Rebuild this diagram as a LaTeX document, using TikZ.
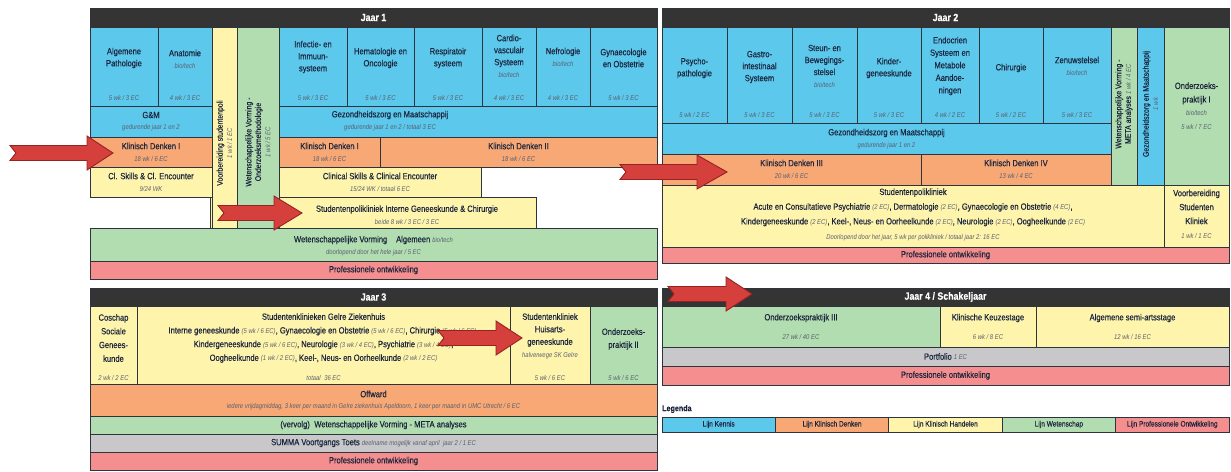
\documentclass[tikz,border=0pt]{standalone}
\usepackage{fontspec}
\setmainfont{Liberation Sans}[FakeStretch=0.84, FakeBold=0.3]
\newfontfamily\subfont{Liberation Sans}[FakeStretch=0.84]
\definecolor{kennis}{RGB}{92,200,236}
\definecolor{denken}{RGB}{247,168,117}
\definecolor{handelen}{RGB}{255,244,172}
\definecolor{wetensch}{RGB}{178,221,176}
\definecolor{profc}{RGB}{245,142,142}
\definecolor{grijs}{RGB}{200,200,202}
\definecolor{kop}{RGB}{52,52,52}
\definecolor{lijn}{RGB}{45,52,60}
\definecolor{tekst}{RGB}{28,38,62}
\definecolor{subtekst}{RGB}{90,96,112}
\definecolor{pijl}{RGB}{214,64,60}
\definecolor{pijlrand}{RGB}{150,35,35}
\newcommand{\subt}[1]{{\subfont\fontsize{7}{8}\selectfont\itshape\color{subtekst}#1}}
\newcommand{\cellbox}[6]{\node[cellstyle, fill=#6, minimum width={(#4)-(#2)}, minimum height={(#5)-(#3)}] (#1) at ({((#2)+(#4))/2},{((#3)+(#5))/2}) {};}
\newcommand{\pijlvorm}[5]{%
  \coordinate (#1) at (#3,#4);
  \draw[pijlstyle] ({#2},{#4-7.5}) -- ({#3-#5},{#4-7.5}) -- ({#3-#5},{#4-17}) -- (#1)
    -- ({#3-#5},{#4+17}) -- ({#3-#5},{#4+7.5}) -- ({#2},{#4+7.5}) -- ({#2+6},{#4}) -- cycle;}
\tikzset{
  cellstyle/.style={draw=lijn, line width=0.7pt, inner sep=0pt, outer sep=0pt, rectangle},
  lbl/.style={text=tekst, font=\fontsize{9}{12}\selectfont, align=center, inner sep=0pt},
  lblw/.style={lbl, font=\fontsize{9}{13.7}\selectfont},
  lblv/.style={lbl, font=\fontsize{8.2}{9.5}\selectfont, rotate=90},
  wk/.style={text=subtekst, font=\subfont\fontsize{7}{8}\selectfont\itshape, inner sep=0pt},
  legt/.style={lbl, font=\fontsize{7.8}{9}\selectfont},
  koptekst/.style={text=white, font=\fontsize{10.5}{12}\selectfont\bfseries, inner sep=0pt},
  pijlstyle/.style={fill=pijl, draw=pijlrand, line width=0.9pt, line join=miter},
}
\begin{document}
\begin{tikzpicture}[x=1pt,y=-1pt]
\useasboundingbox[fill=white] (0,0) rectangle (1231,471);

% ================= JAAR 1 =================
\cellbox{jk1}{90}{8}{657}{27}{kop}
\node[koptekst] (jk1t) at (jk1) {Jaar 1};
\cellbox{ap}{90}{27}{158}{106}{kennis}
\cellbox{anat}{158}{27}{212}{106}{kennis}
\cellbox{infec}{279}{27}{347}{106}{kennis}
\cellbox{hema}{347}{27}{414}{106}{kennis}
\cellbox{resp}{414}{27}{482}{106}{kennis}
\cellbox{cardio}{482}{27}{536}{106}{kennis}
\cellbox{nefro}{536}{27}{590}{106}{kennis}
\cellbox{gyn}{590}{27}{657}{106}{kennis}
\cellbox{gm}{90}{106}{212}{137}{kennis}
\cellbox{gzm1}{279}{106}{657}{137}{kennis}
\cellbox{kd1a}{90}{137}{212}{167}{denken}
\cellbox{kd1b}{279}{137}{380}{167}{denken}
\cellbox{kd2}{380}{137}{657}{167}{denken}
\cellbox{csa}{90}{167}{212}{197}{handelen}
\cellbox{csb}{279}{167}{481}{197}{handelen}
\cellbox{spoli1}{210}{197}{536}{228}{handelen}
\cellbox{vbsp}{212}{27}{237}{228}{handelen}
\cellbox{wvom}{237}{27}{279}{228}{wetensch}
\cellbox{wva}{90}{228}{657}{261}{wetensch}
\cellbox{po1}{90}{261}{657}{279}{profc}

\node[lbl] (ap-t) at (124,58) {Algemene\\Pathologie};
\node[wk] (ap-w) at (124,98) {5 wk / 3 EC};
\node[lbl] (anat-t) at (185,59) {Anatomie\\\subt{bio/tech}};
\node[wk] (anat-w) at (185,98) {4 wk / 3 EC};
\node[lbl] (infec-t) at (313,57) {Infectie- en\\Immuun-\\systeem};
\node[wk] (infec-w) at (313,98) {5 wk / 3 EC};
\node[lbl] (hema-t) at (380.5,58) {Hematologie en\\Oncologie};
\node[wk] (hema-w) at (380.5,98) {5 wk / 3 EC};
\node[lbl] (resp-t) at (448,58) {Respiratoir\\systeem};
\node[wk] (resp-w) at (448,98) {5 wk / 3 EC};
\node[lbl] (cardio-t) at (509,56) {Cardio-\\vasculair\\Systeem\\\subt{bio/tech}};
\node[wk] (cardio-w) at (509,98) {4 wk / 3 EC};
\node[lbl] (nefro-t) at (563,57) {Nefrologie\\\subt{bio/tech}};
\node[wk] (nefro-w) at (563,98) {4 wk / 3 EC};
\node[lbl] (gyn-t) at (623.5,58) {Gynaecologie\\en Obstetrie};
\node[wk] (gyn-w) at (623.5,98) {5 wk / 3 EC};

\node[lbl] (gm-t) at (151,115) {G\&M};
\node[wk] (gm-w) at (151,128) {gedurende jaar 1 en 2};
\node[lbl] (gzm1-t) at (390,115) {Gezondheidszorg en Maatschappij};
\node[wk] (gzm1-w) at (390,128) {gedurende jaar 1 en 2 / totaal 3 EC};
\node[lbl] (kd1a-t) at (151,146) {Klinisch Denken I};
\node[wk] (kd1a-w) at (151,158.5) {18 wk / 6 EC};
\node[lbl] (kd1b-t) at (329.5,146) {Klinisch Denken I};
\node[wk] (kd1b-w) at (329.5,158.5) {18 wk / 6 EC};
\node[lbl] (kd2-t) at (518.5,146) {Klinisch Denken II};
\node[wk] (kd2-w) at (518.5,158.5) {18 wk / 6 EC};
\node[lbl] (csa-t) at (151,176) {Cl. Skills \& Cl. Encounter};
\node[wk] (csa-w) at (151,188.5) {9/24 WK};
\node[lbl] (csb-t) at (380,176) {Clinical Skills \& Clinical Encounter};
\node[wk] (csb-w) at (380,188.5) {15/24 WK / totaal 6 EC};
\node[lbl] (spoli1-t) at (407,209.5) {Studentenpolikliniek Interne Geneeskunde \& Chirurgie};
\node[wk] (spoli1-w) at (407,221.5) {beide 8 wk / 3 EC / 3 EC};
\node[lblv] (vbsp-t) at (224.5,143) {Voorbereiding studentenpoli\\\subt{1 wk / 1 EC}};
\node[lblv] (wvom-t) at (258,142) {Wetenschappelijke Vorming -\\Onderzoeksmethodologie\\\subt{1 wk / 5 EC}};
\node[lbl] (wva-t) at (373.5,240) {Wetenschappelijke Vorming\quad Algemeen \subt{bio/tech}};
\node[wk] (wva-w) at (373.5,253) {doorlopend door het hele jaar / 5 EC};
\node[lbl] (po1-t) at (po1) {Professionele ontwikkeling};

% ================= JAAR 2 =================
\cellbox{jk2}{662}{8}{1229}{27}{kop}
\node[koptekst] (jk2t) at (jk2) {Jaar 2};
\cellbox{psy}{662}{27}{727}{123}{kennis}
\cellbox{gas}{727}{27}{792}{123}{kennis}
\cellbox{steun}{792}{27}{857}{123}{kennis}
\cellbox{kind}{857}{27}{921}{123}{kennis}
\cellbox{endo}{921}{27}{979}{123}{kennis}
\cellbox{chir}{979}{27}{1043}{123}{kennis}
\cellbox{zenuw}{1043}{27}{1111}{123}{kennis}
\cellbox{wvmeta}{1111}{27}{1137}{185}{wetensch}
\cellbox{gzmv}{1137}{27}{1164}{185}{kennis}
\cellbox{ozp1}{1164}{27}{1229}{185}{wetensch}
\cellbox{gzm2}{662}{123}{1111}{154}{kennis}
\cellbox{kd3}{662}{154}{921}{185}{denken}
\cellbox{kd4}{921}{154}{1111}{185}{denken}
\cellbox{spoli2}{662}{185}{1164}{247}{handelen}
\cellbox{vsk}{1164}{185}{1229}{247}{handelen}
\cellbox{po2}{662}{247}{1229}{263}{profc}

\node[lbl] (psy-t) at (694.5,68) {Psycho-\\pathologie};
\node[wk] (psy-w) at (694.5,115) {5 wk / 2 EC};
\node[lbl] (gas-t) at (759.5,67) {Gastro-\\intestinaal\\Systeem};
\node[wk] (gas-w) at (759.5,115) {5 wk / 3 EC};
\node[lbl] (steun-t) at (824.5,66) {Steun- en\\Bewegings-\\stelsel\\\subt{bio/tech}};
\node[wk] (steun-w) at (824.5,115) {5 wk / 3 EC};
\node[lbl] (kind-t) at (889,68) {Kinder-\\geneeskunde};
\node[wk] (kind-w) at (889,115) {5 wk / 3 EC};
\node[lbl, font=\fontsize{9}{12.5}\selectfont] (endo-t) at (950,66) {Endocrien\\Systeem en\\Metabole\\Aandoe-\\ningen};
\node[wk] (endo-w) at (950,115) {4 wk / 2 EC};
\node[lbl] (chir-t) at (1011,68) {Chirurgie};
\node[wk] (chir-w) at (1011,115) {5 wk / 2 EC};
\node[lbl] (zenuw-t) at (1077,66) {Zenuwstelsel\\\subt{bio/tech}};
\node[wk] (zenuw-w) at (1077,115) {5 wk / 3 EC};
\node[lblv] (wvmeta-t) at (1124,104) {Wetenschappelijke Vorming -\\META analyses \subt{1 wk / 4 EC}};
\node[lblv] (gzmv-t) at (1150.5,104) {Gezondheidszorg en Maatschappij\\\subt{1 wk}};
\node[lbl, font=\fontsize{9}{13.5}\selectfont] (ozp1-t) at (1196.5,106) {Onderzoeks-\\praktijk I\\\subt{bio/tech}\\\subt{5 wk / 7 EC}};
\node[lbl] (gzm2-t) at (886.5,133) {Gezondheidszorg en Maatschappij};
\node[wk] (gzm2-w) at (886.5,145.5) {gedurende jaar 1 en 2};
\node[lbl] (kd3-t) at (791.5,163) {Klinisch Denken III};
\node[wk] (kd3-w) at (791.5,175.5) {20 wk / 6 EC};
\node[lbl] (kd4-t) at (1016,163) {Klinisch Denken IV};
\node[wk] (kd4-w) at (1016,175.5) {13 wk / 4 EC};
\node[lbl, font=\fontsize{9}{14.7}\selectfont] (spoli2-t) at (913,214.5) {Studentenpolikliniek\\
Acute en Consultatieve Psychiatrie \subt{(2 EC)}, Dermatologie \subt{(2 EC)}, Gynaecologie en Obstetrie \subt{(4 EC)},\\
Kindergeneeskunde \subt{(2 EC)}, Keel-, Neus- en Oorheelkunde \subt{(2 EC)}, Neurologie \subt{(2 EC)}, Oogheelkunde \subt{(2 EC)}\\
\subt{Doorlopend door het jaar, 5 wk per polikliniek / totaal jaar 2: 16 EC}};
\node[lbl, font=\fontsize{9}{14}\selectfont] (vsk-t) at (1196.5,214) {Voorbereiding\\Studenten\\Kliniek\\\subt{1 wk / 1 EC}};
\node[lbl] (po2-t) at (po2) {Professionele ontwikkeling};

% ================= JAAR 3 =================
\cellbox{jk3}{90}{288}{657}{306}{kop}
\node[koptekst] (jk3t) at (jk3) {Jaar 3};
\cellbox{cosch}{90}{306}{137}{384}{handelen}
\cellbox{skg}{137}{306}{510}{384}{handelen}
\cellbox{skh}{510}{306}{590}{384}{handelen}
\cellbox{ozp2}{590}{306}{657}{384}{wetensch}
\cellbox{offw}{90}{384}{657}{416}{denken}
\cellbox{verv}{90}{416}{657}{434}{wetensch}
\cellbox{summa}{90}{434}{657}{452}{grijs}
\cellbox{po3}{90}{452}{657}{470}{profc}

\node[lblw] (cosch-t) at (113.5,338) {Coschap\\Sociale\\Genees-\\kunde};
\node[wk] (cosch-w) at (113.5,378) {2 wk / 2 EC};
\node[lblw] (skg-t) at (323.5,338) {Studentenklinieken Gelre Ziekenhuis\\
Interne geneeskunde \subt{(5 wk / 6 EC)}, Gynaecologie en Obstetrie \subt{(5 wk / 6 EC)}, Chirurgie \subt{(5 wk / 6 EC)},\\
Kindergeneeskunde \subt{(5 wk / 6 EC)}, Neurologie \subt{(3 wk / 4 EC)}, Psychiatrie \subt{(3 wk / 4 EC)},\\
Oogheelkunde \subt{(1 wk / 2 EC)}, Keel-, Neus- en Oorheelkunde \subt{(2 wk / 2 EC)}};
\node[wk] (skg-w) at (323.5,378) {totaal\enspace 36 EC};
\node[lbl, font=\fontsize{9}{12.5}\selectfont] (skh-t) at (550,336) {Studentenkliniek\\Huisarts-\\geneeskunde\\\subt{halverwege SK Gelre}};
\node[wk] (skh-w) at (550,378) {5 wk / 6 EC};
\node[lbl, font=\fontsize{9}{13}\selectfont] (ozp2-t) at (623.5,339) {Onderzoeks-\\praktijk II};
\node[wk] (ozp2-w) at (623.5,378) {5 wk / 6 EC};
\node[lbl] (offw-t) at (373.5,394) {Offward};
\node[wk] (offw-w) at (373.5,407) {iedere vrijdagmiddag, 3 keer per maand in Gelre ziekenhuis Apeldoorn, 1 keer per maand in UMC Utrecht / 6 EC};
\node[lbl] (verv-t) at (verv) {(vervolg)\enspace Wetenschappelijke Vorming - META analyses};
\node[lbl] (summa-t) at (summa) {SUMMA Voortgangs Toets \subt{deelname mogelijk vanaf april\enspace jaar 2 / 1 EC}};
\node[lbl] (po3-t) at (po3) {Professionele ontwikkeling};

% ================= JAAR 4 =================
\cellbox{jk4}{662}{288}{1229}{306}{kop}
\node[koptekst] (jk4t) at (jk4) {Jaar 4 / Schakeljaar};
\cellbox{ozp3}{662}{306}{940}{347}{wetensch}
\cellbox{kkz}{940}{306}{1036}{347}{handelen}
\cellbox{semi}{1036}{306}{1229}{347}{handelen}
\cellbox{portf}{662}{347}{1229}{366}{grijs}
\cellbox{po4}{662}{366}{1229}{385}{profc}
\node[lbl] (ozp3-t) at (801,318) {Onderzoekspraktijk III};
\node[wk] (ozp3-w) at (801,337) {27 wk / 40 EC};
\node[lbl] (kkz-t) at (988,318) {Klinische Keuzestage};
\node[wk] (kkz-w) at (988,337) {6 wk / 8 EC};
\node[lbl] (semi-t) at (1132.5,318) {Algemene semi-artsstage};
\node[wk] (semi-w) at (1132.5,337) {12 wk / 16 EC};
\node[lbl] (portf-t) at (portf) {Portfolio \subt{1 EC}};
\node[lbl] (po4-t) at (po4) {Professionele ontwikkeling};

% ================= LEGENDA =================
\node[lbl, anchor=west, font=\fontsize{8.5}{10}\selectfont\bfseries] (leg) at (662,409) {Legenda};
\cellbox{lg1}{662}{417}{775.4}{432}{kennis}
\cellbox{lg2}{775.4}{417}{888.8}{432}{denken}
\cellbox{lg3}{888.8}{417}{1002.2}{432}{handelen}
\cellbox{lg4}{1002.2}{417}{1115.6}{432}{wetensch}
\cellbox{lg5}{1115.6}{417}{1229}{432}{profc}
\node[legt] (lg1-t) at (lg1) {Lijn Kennis};
\node[legt] (lg2-t) at (lg2) {Lijn Klinisch Denken};
\node[legt] (lg3-t) at (lg3) {Lijn Klinisch Handelen};
\node[legt] (lg4-t) at (lg4) {Lijn Wetenschap};
\node[legt] (lg5-t) at (lg5) {Lijn Professionele Ontwikkeling};

% ================= PIJLEN =================
\pijlvorm{p1}{10}{113}{153}{26}
\pijlvorm{p2}{218}{302}{213}{28}
\pijlvorm{p3}{620}{727}{172}{30}
\pijlvorm{p4}{668}{752}{294}{26}
\pijlvorm{p5}{438}{522}{338}{26}
\end{tikzpicture}
\end{document}
